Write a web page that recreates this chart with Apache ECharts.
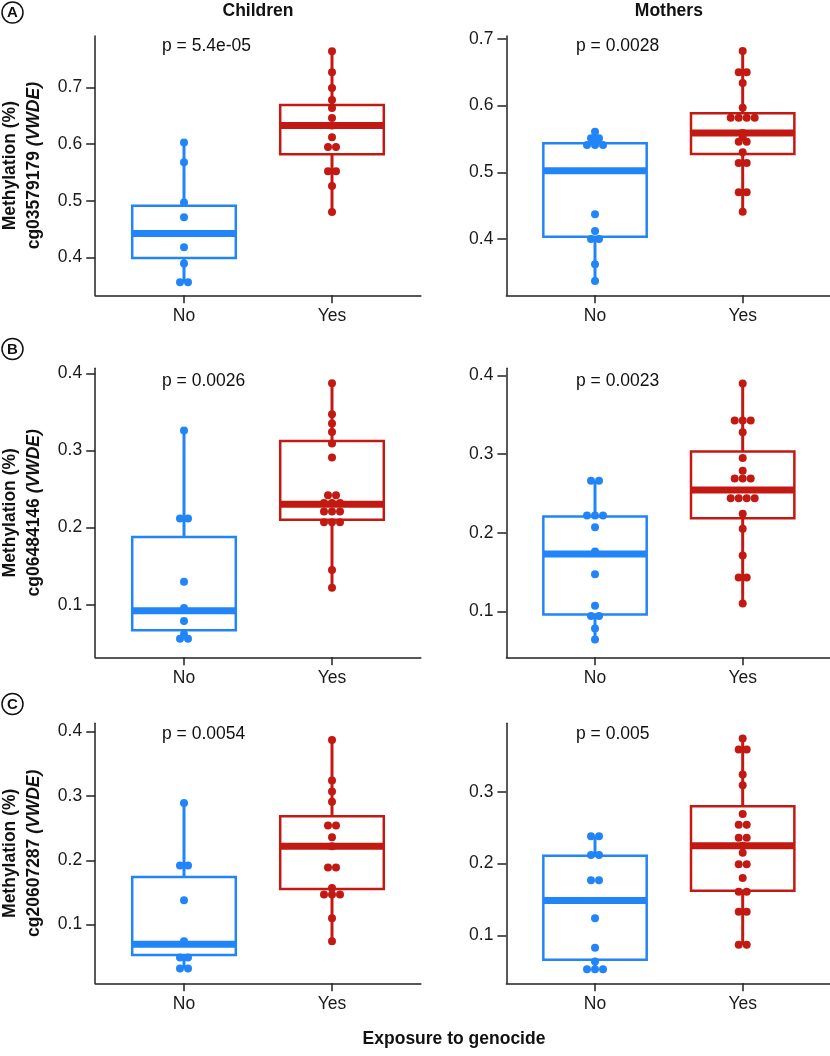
<!DOCTYPE html>
<html>
<head>
<meta charset="utf-8">
<script src="https://cdn.jsdelivr.net/npm/echarts@6/dist/echarts.min.js"></script>
<style>
  html, body { margin: 0; padding: 0; background: #fff; }
  #chart { width: 830px; height: 1056px; }
</style>
</head>
<body>
<div id="chart"></div>
<script>
// categories
const groups = ['No', 'Yes'];
const columns = ['Children', 'Mothers'];
const probes = ['cg03579179', 'cg06484146', 'cg20607287'];
const letters = ['A', 'B', 'C'];
const pLabels = [['p = 5.4e-05', 'p = 0.0028'], ['p = 0.0026', 'p = 0.0023'], ['p = 0.0054', 'p = 0.005']];

// tick labels per panel
const ticksA = [0.4, 0.5, 0.6, 0.7];
const ticksBC = [0.1, 0.2, 0.3, 0.4];
const ticksCMothers = [0.1, 0.2, 0.3];

// individual methylation values
const aChildrenNo = [0.603, 0.568, 0.497, 0.471, 0.418, 0.389, 0.356, 0.356];
const aChildrenYes = [0.764, 0.727, 0.699, 0.678, 0.664, 0.646, 0.633, 0.612, 0.595, 0.595, 0.552, 0.552, 0.526, 0.480];
const aMothersNo = [0.561, 0.551, 0.551, 0.541, 0.541, 0.541, 0.437, 0.412, 0.400, 0.400, 0.362, 0.337];
const aMothersYes = [0.682, 0.650, 0.650, 0.634, 0.597, 0.582, 0.582, 0.582, 0.582, 0.559, 0.553, 0.546, 0.546, 0.530, 0.514, 0.514, 0.470, 0.470, 0.441];
const bChildrenNo = [0.326, 0.212, 0.212, 0.130, 0.096, 0.079, 0.062, 0.056, 0.056];
const bChildrenYes = [0.387, 0.347, 0.335, 0.324, 0.309, 0.291, 0.242, 0.242, 0.232, 0.232, 0.232, 0.221, 0.221, 0.221, 0.207, 0.207, 0.207, 0.145, 0.122];
const bMothersNo = [0.266, 0.266, 0.222, 0.222, 0.222, 0.207, 0.176, 0.147, 0.107, 0.094, 0.094, 0.078, 0.064];
const bMothersYes = [0.390, 0.343, 0.343, 0.343, 0.328, 0.295, 0.279, 0.269, 0.269, 0.269, 0.244, 0.244, 0.244, 0.244, 0.224, 0.205, 0.171, 0.143, 0.143, 0.110];
const cChildrenNo = [0.289, 0.192, 0.192, 0.138, 0.074, 0.049, 0.049, 0.032, 0.032];
const cChildrenYes = [0.387, 0.324, 0.307, 0.291, 0.254, 0.254, 0.236, 0.222, 0.189, 0.189, 0.157, 0.147, 0.147, 0.147, 0.110, 0.074];
const cMothersNo = [0.238, 0.238, 0.212, 0.212, 0.177, 0.177, 0.124, 0.083, 0.064, 0.053, 0.053, 0.053];
const cMothersYes = [0.374, 0.359, 0.359, 0.324, 0.309, 0.269, 0.254, 0.254, 0.236, 0.236, 0.225, 0.215, 0.199, 0.199, 0.180, 0.161, 0.161, 0.133, 0.133, 0.087, 0.087];

// box statistics [min, Q1, median, Q3, max] for No / Yes
const aChildrenBox = [[0.356, 0.399, 0.442, 0.491, 0.603], [0.480, 0.582, 0.633, 0.669, 0.764]];
const aMothersBox = [[0.337, 0.4035, 0.5025, 0.5435, 0.561], [0.441, 0.5275, 0.559, 0.5885, 0.682]];
const bChildrenBox = [[0.056, 0.0672, 0.0923, 0.188, 0.326], [0.122, 0.2104, 0.2304, 0.3123, 0.387]];
const bMothersBox = [[0.064, 0.0958, 0.173, 0.2205, 0.266], [0.110, 0.2185, 0.2545, 0.3033, 0.390]];
const cChildrenBox = [[0.032, 0.0528, 0.0694, 0.1741, 0.289], [0.074, 0.1554, 0.2218, 0.2685, 0.387]];
const cMothersBox = [[0.053, 0.0664, 0.1488, 0.211, 0.238], [0.087, 0.1622, 0.225, 0.280, 0.374]];

const panels = [
  [{ no: aChildrenNo, yes: aChildrenYes, box: aChildrenBox, ticks: ticksA },
   { no: aMothersNo, yes: aMothersYes, box: aMothersBox, ticks: ticksA }],
  [{ no: bChildrenNo, yes: bChildrenYes, box: bChildrenBox, ticks: ticksBC },
   { no: bMothersNo, yes: bMothersYes, box: bMothersBox, ticks: ticksBC }],
  [{ no: cChildrenNo, yes: cChildrenYes, box: cChildrenBox, ticks: ticksBC },
   { no: cMothersNo, yes: cMothersYes, box: cMothersBox, ticks: ticksCMothers }]
];

// layout
const FONT = 'Liberation Sans, Arial, Helvetica, sans-serif';
const FS = 17.5;
const colors = ['#2185F8', '#C21A12'];
const colLeft = [95.2, 506.4];
const colWidth = [325.6, 324.9];
const rowTop = [36, 368.3, 723.3];
const rowBottom = [295.3, 657.3, 983.3];
const yRanges = [[[0.333, 0.791], [0.3155, 0.7045]], [[0.032, 0.4065], [0.0414, 0.4093]], [[0.0088, 0.413], [0.0335, 0.3953]]];
const pTextY = [46.5, 381, 734.5];
const pTextX = [162, 576];
const letterY = [12.5, 349, 704];
const dotGap = 8;

// spread equal values side by side like a centred dot plot
function dotItems(values, x) {
  const counts = {};
  values.forEach(v => { counts[v] = (counts[v] || 0) + 1; });
  const seen = {};
  return values.map(v => {
    const k = seen[v] || 0;
    seen[v] = k + 1;
    return { value: [x, v], symbolOffset: [(k - (counts[v] - 1) / 2) * dotGap, 0] };
  });
}

function renderBox(params, api) {
  const x = api.value(0);
  const color = colors[x - 1];
  const left = api.coord([x - 0.35, api.value(2)]);
  const right = api.coord([x + 0.35, api.value(4)]);
  const med = api.coord([x, api.value(3)]);
  const top = api.coord([x, api.value(5)]);
  const bot = api.coord([x, api.value(1)]);
  return {
    type: 'group',
    children: [
      { type: 'line', shape: { x1: top[0], y1: top[1], x2: top[0], y2: right[1] }, style: { stroke: color, lineWidth: 3 } },
      { type: 'line', shape: { x1: bot[0], y1: left[1], x2: bot[0], y2: bot[1] }, style: { stroke: color, lineWidth: 3 } },
      { type: 'rect', shape: { x: left[0], y: right[1], width: right[0] - left[0], height: left[1] - right[1] },
        style: { fill: '#fff', stroke: color, lineWidth: 2.5 } },
      { type: 'line', shape: { x1: left[0], y1: med[1], x2: right[0], y2: med[1] }, style: { stroke: color, lineWidth: 7 } }
    ]
  };
}

const grids = [], xAxes = [], yAxes = [], series = [], graphics = [];

panels.forEach((row, r) => {
  row.forEach((p, c) => {
    const i = grids.length;
    grids.push({
      left: colLeft[c], top: rowTop[r], width: colWidth[c], height: rowBottom[r] - rowTop[r],
      containLabel: false, outerBoundsMode: 'none'
    });
    xAxes.push({
      gridIndex: i, type: 'value', min: 0.4, max: 2.6,
      axisLine: { show: true, onZero: false, lineStyle: { color: '#222', width: 1.5 } },
      axisTick: { show: true, length: 8, customValues: [1, 2], lineStyle: { color: '#222', width: 1.5 } },
      axisLabel: { customValues: [1, 2], formatter: v => groups[v - 1], fontSize: FS, fontFamily: FONT, color: '#1a1a1a', margin: 12 },
      splitLine: { show: false }
    });
    const yAxis = {
      gridIndex: i, type: 'value', min: yRanges[r][c][0], max: yRanges[r][c][1],
      axisLine: { show: true, onZero: false, lineStyle: { color: '#222', width: 1.5 } },
      axisTick: { show: true, length: 9, customValues: p.ticks, lineStyle: { color: '#222', width: 1.5 } },
      axisLabel: { customValues: p.ticks, formatter: v => v.toFixed(1), fontSize: FS, fontFamily: FONT, color: '#1a1a1a', margin: 13 },
      splitLine: { show: false }
    };
    if (c === 0) {
      const tstyle = { fontFamily: FONT, fontSize: FS, fontWeight: 'bold', color: '#111', lineHeight: 24, align: 'center' };
      yAxis.name = '{b|Methylation (%)}\n{b|' + probes[r] + ' }{bi|(VWDE)}';
      yAxis.nameLocation = 'middle';
      yAxis.nameRotate = 90;
      yAxis.nameGap = 49;
      yAxis.nameTextStyle = {
        align: 'center',
        rich: { b: tstyle, bi: Object.assign({}, tstyle, { fontStyle: 'italic' }) }
      };
    }
    yAxes.push(yAxis);

    series.push({
      type: 'custom', xAxisIndex: i, yAxisIndex: i, z: 2,
      renderItem: renderBox,
      encode: { x: 0, y: [1, 2, 3, 4, 5] },
      data: p.box.map((b, g) => [g + 1].concat(b))
    });
    [p.no, p.yes].forEach((vals, g) => {
      series.push({
        type: 'scatter', xAxisIndex: i, yAxisIndex: i, z: 3,
        symbol: 'circle', symbolSize: 8,
        itemStyle: { color: colors[g], opacity: 1 },
        data: dotItems(vals, g + 1)
      });
    });

    graphics.push({
      type: 'text', x: pTextX[c], y: pTextY[r],
      style: { text: pLabels[r][c], fill: '#111', font: FS + 'px ' + FONT, textAlign: 'left', textVerticalAlign: 'middle' }
    });
  });

  graphics.push({
    type: 'circle', shape: { cx: 12.5, cy: letterY[r], r: 10.5 },
    style: { fill: '#fff', stroke: '#111', lineWidth: 1.5 }
  });
  graphics.push({
    type: 'text', x: 12.5, y: letterY[r] + 0.5,
    style: { text: letters[r], fill: '#111', font: 'bold 15px ' + FONT, textAlign: 'center', textVerticalAlign: 'middle' }
  });
});

columns.forEach((name, c) => {
  graphics.push({
    type: 'text', x: colLeft[c] + colWidth[c] / 2, y: 11,
    style: { text: name, fill: '#111', font: 'bold ' + FS + 'px ' + FONT, textAlign: 'center', textVerticalAlign: 'middle' }
  });
});
graphics.push({
  type: 'text', x: 454, y: 1039,
  style: { text: 'Exposure to genocide', fill: '#111', font: 'bold ' + FS + 'px ' + FONT, textAlign: 'center', textVerticalAlign: 'middle' }
});

const chart = echarts.init(document.getElementById('chart'), null, { renderer: 'canvas' });
chart.setOption({
  animation: false,
  backgroundColor: '#fff',
  grid: grids,
  xAxis: xAxes,
  yAxis: yAxes,
  series: series,
  graphic: graphics
});
</script>
</body>
</html>
